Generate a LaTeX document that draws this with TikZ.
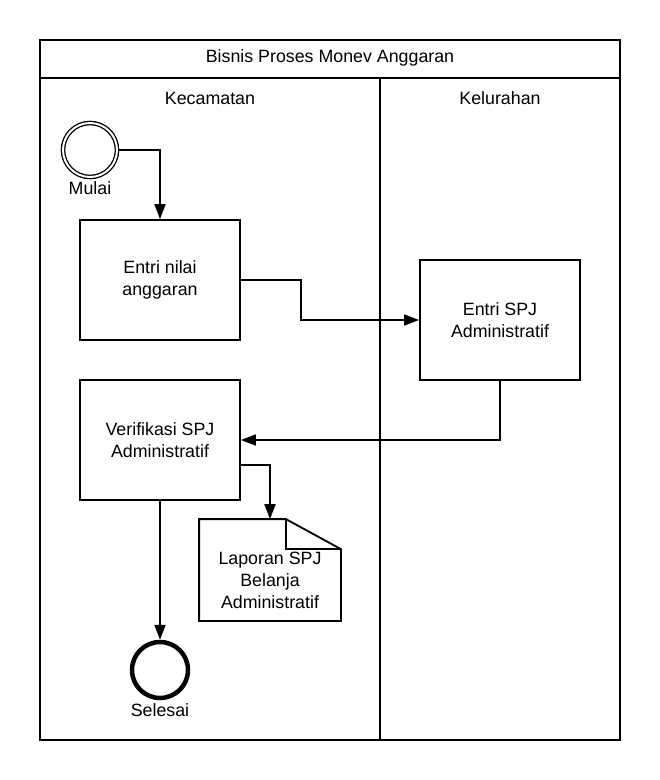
\documentclass[tikz,border=0pt]{standalone}
\usepackage{fontspec}
\setmainfont{Liberation Sans}
\usetikzlibrary{arrows.meta,positioning,calc}

\begin{document}
\begin{tikzpicture}[
        x=1pt, y=-1pt,
        font=\fontsize{17.8}{22}\selectfont,
        line width=1.8pt,
        task/.style={rectangle, draw, inner sep=3pt, align=center, minimum width=160pt, minimum height=120pt},
        startev/.style={circle, draw, double, double distance=2pt, line width=1.3pt, minimum size=54pt, inner sep=0pt},
        endev/.style={circle, draw, line width=4.5pt, minimum size=56pt, inner sep=0pt},
        arrow/.style={-{Triangle[length=15pt,width=11pt]}}
    ]
        \useasboundingbox (0,0) rectangle (660,780);
        % pool and lanes
        \draw (40,40) rectangle (620,740);
        \draw (40,78) -- (620,78);
        \draw (380,78) -- (380,740);
        \node (title) at (330,58) {Bisnis Proses Monev Anggaran};
        \node (kec) at (210,98) {Kecamatan};
        \node (kel) at (500,98) {Kelurahan};

        % Kecamatan lane
        \node[startev] (mulai) at (90,150) {};
        \node (mulaiLbl) at (90,188) {Mulai};
        \node[task] (entri) at (160,280) {Entri nilai\\anggaran};
        \node[task] (verif) at (160,440) {Verifikasi SPJ\\Administratif};
        \node[endev] (selesai) at (160,670) {};
        \node (selesaiLbl) at (160,710) {Selesai};

        % document
        \node[minimum width=140pt, minimum height=100pt, inner sep=0pt] (lap) at (270,570) {};
        \node[align=center] (lapTxt) at (270,580) {Laporan SPJ\\Belanja\\Administratif};
        \draw (lap.north west) -- ([xshift=-55pt]lap.north east) -- ([yshift=-30pt]lap.north east)
            -- (lap.south east) -- (lap.south west) -- cycle;
        \draw ([xshift=-55pt]lap.north east) |- ([yshift=-30pt]lap.north east);

        % Kelurahan lane
        \node[task] (spj) at (500,320) {Entri SPJ\\Administratif};

        % flows
        \draw[arrow] (mulai.east) -| (entri.north);
        \draw[arrow] (entri.east) -- ++(60,0) |- (spj.west);
        \draw[arrow] (spj.south) |- (verif.east);
        \draw[arrow] ([yshift=-25pt]verif.east) -| (lap.north);
        \draw[arrow] (verif.south) -- (selesai.north);
    \end{tikzpicture}
\end{document}
